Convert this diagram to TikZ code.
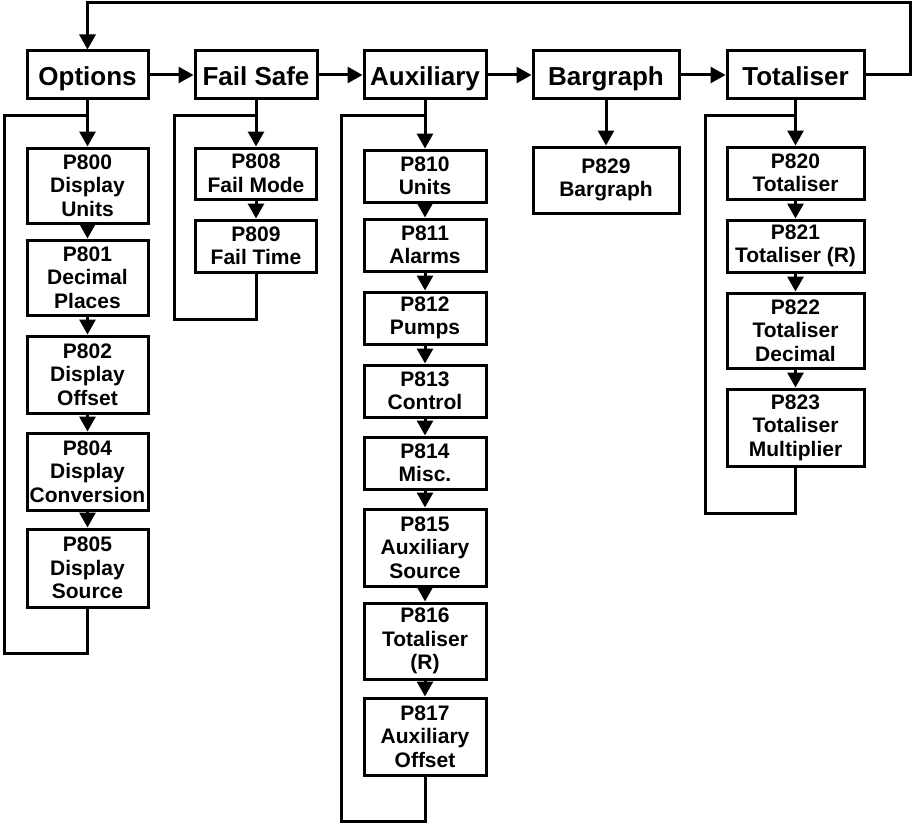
\documentclass[tikz,border=0pt]{standalone}
\usepackage{fontspec}
\setmainfont{Liberation Sans}
\usetikzlibrary{arrows.meta}
\begin{document}
\begin{tikzpicture}[x=1pt,y=-1pt,
  box/.style={draw, line width=3pt, inner sep=0pt, align=center, font=\bfseries\fontsize{21}{23.5}\selectfont},
  head/.style={draw, line width=3pt, inner sep=0pt, minimum height=48pt, text height=21.6pt, text depth=0pt, font=\bfseries\fontsize{26}{30}\selectfont},
  link/.style={line width=3pt, -{Triangle[length=15pt,width=16pt]}},
  loopline/.style={line width=3pt}]
\useasboundingbox (0,0) rectangle (912,824);

% top row
\node[head, minimum width=121pt] (opt) at (87.5,75) {Options};
\node[head, minimum width=122pt] (fs)  at (256,75) {Fail Safe};
\node[head, minimum width=122pt] (aux) at (425,75) {Auxiliary};
\node[head, minimum width=146pt] (bar) at (606,75) {Bargraph};
\node[head, minimum width=137pt] (tot) at (795.5,75) {Totaliser};

\draw[link] (opt) -- (fs);
\draw[link] (fs) -- (aux);
\draw[link] (aux) -- (bar);
\draw[link] (bar) -- (tot);
\coordinate (tr) at (910.5,3);
\draw[link] (tot.east) -| (tr) -| (opt.north);

% Options column
\node[box, minimum width=121pt, minimum height=75pt] (p800) at (87.5,185.5) {P800\\Display\\Units};
\node[box, minimum width=121pt, minimum height=75pt] (p801) at (87.5,277.5) {P801\\Decimal\\Places};
\node[box, minimum width=121pt, minimum height=77pt] (p802) at (87.5,374.5) {P802\\Display\\Offset};
\node[box, minimum width=121pt, minimum height=77pt] (p804) at (87.5,471.5) {P804\\Display\\Conversion};
\node[box, minimum width=121pt, minimum height=78pt] (p805) at (87.5,568) {P805\\Display\\Source};
\draw[link] (opt) -- (p800);
\draw[link] (p800) -- (p801);
\draw[link] (p801) -- (p802);
\draw[link] (p802) -- (p804);
\draw[link] (p804) -- (p805);
\coordinate (oa) at (4.5,653);
\coordinate (ob) at (87.5,116);
\draw[loopline] (p805.south) |- (oa) |- (ob);

% Fail Safe column
\node[box, minimum width=121pt, minimum height=51pt] (p808) at (256,173.5) {P808\\Fail Mode};
\node[box, minimum width=121pt, minimum height=52pt] (p809) at (256,246) {P809\\Fail Time};
\draw[link] (fs) -- (p808);
\draw[link] (p808) -- (p809);
\coordinate (fa) at (174,319);
\coordinate (fb) at (256,116);
\draw[loopline] (p809.south) |- (fa) |- (fb);

% Auxiliary column
\node[box, minimum width=122pt, minimum height=52pt] (p810) at (425,176) {P810\\Units};
\node[box, minimum width=122pt, minimum height=52pt] (p811) at (425,245) {P811\\Alarms};
\node[box, minimum width=122pt, minimum height=52pt] (p812) at (425,318) {P812\\Pumps};
\node[box, minimum width=122pt, minimum height=52pt] (p813) at (425,391) {P813\\Control};
\node[box, minimum width=122pt, minimum height=52pt] (p814) at (425,463) {P814\\Misc.};
\node[box, minimum width=122pt, minimum height=77pt] (p815) at (425,547.5) {P815\\Auxiliary\\Source};
\node[box, minimum width=122pt, minimum height=76pt] (p816) at (425,641) {P816\\Totaliser\\(R)};
\node[box, minimum width=122pt, minimum height=77pt] (p817) at (425,736.5) {P817\\Auxiliary\\Offset};
\draw[link] (aux) -- (p810);
\draw[link] (p810) -- (p811);
\draw[link] (p811) -- (p812);
\draw[link] (p812) -- (p813);
\draw[link] (p813) -- (p814);
\draw[link] (p814) -- (p815);
\draw[link] (p815) -- (p816);
\draw[link] (p816) -- (p817);
\coordinate (aa) at (341,821.5);
\coordinate (ab) at (425,116);
\draw[loopline] (p817.south) |- (aa) |- (ab);

% Bargraph column
\node[box, minimum width=146pt, minimum height=66pt] (p829) at (606,180) {P829\\Bargraph};
\draw[link] (bar) -- (p829);

% Totaliser column
\node[box, minimum width=137pt, minimum height=52pt] (p820) at (795.5,173) {P820\\Totaliser};
\node[box, minimum width=137pt, minimum height=52pt] (p821) at (795.5,246) {P821\\Totaliser (R)};
\node[box, minimum width=137pt, minimum height=75pt] (p822) at (795.5,330.5) {P822\\Totaliser\\Decimal};
\node[box, minimum width=137pt, minimum height=77pt] (p823) at (795.5,427.5) {P823\\Totaliser\\Multiplier};
\draw[link] (tot) -- (p820);
\draw[link] (p820) -- (p821);
\draw[link] (p821) -- (p822);
\draw[link] (p822) -- (p823);
\coordinate (ta) at (705.5,513);
\coordinate (tb) at (795.5,116);
\draw[loopline] (p823.south) |- (ta) |- (tb);
\end{tikzpicture}
\end{document}
